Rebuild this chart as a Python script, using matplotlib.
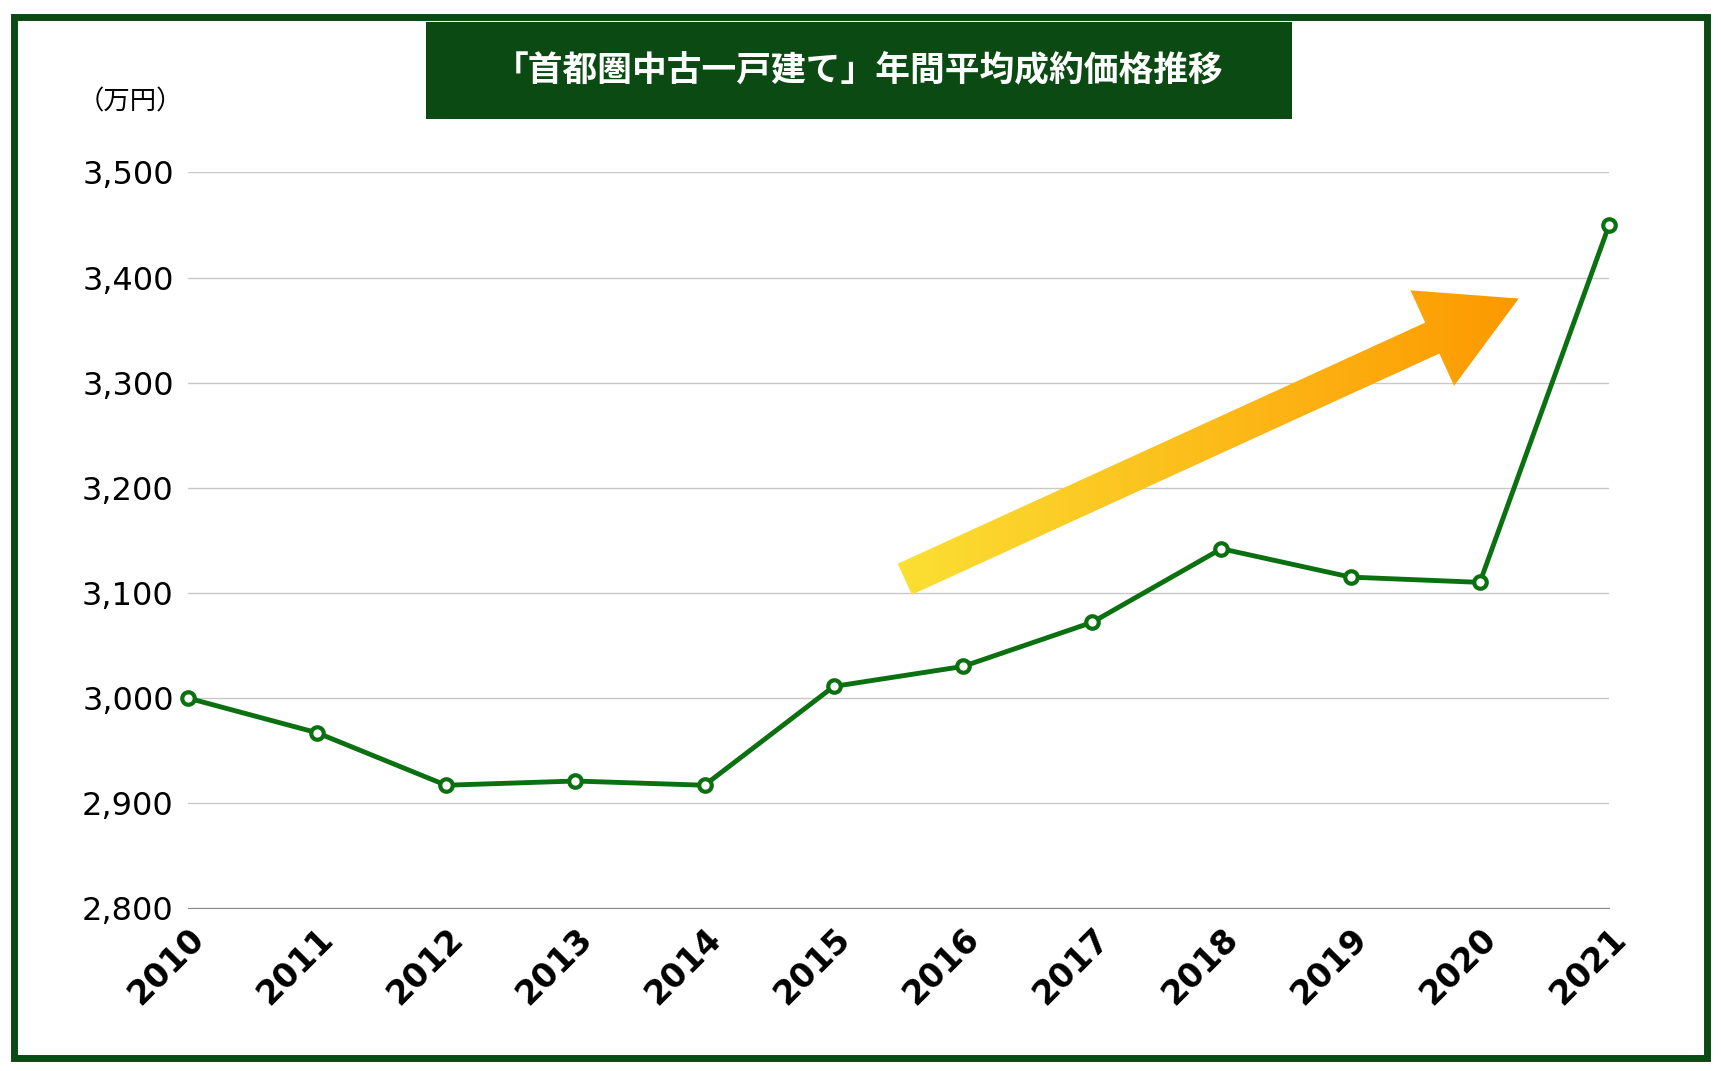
import numpy as np
import matplotlib
matplotlib.use("Agg")
from matplotlib import pyplot as plt
from matplotlib.patches import FancyArrow, Rectangle
from matplotlib.transforms import IdentityTransform

years = [2010, 2011, 2012, 2013, 2014, 2015, 2016, 2017, 2018, 2019, 2020, 2021]
prices = [3000, 2967, 2917, 2921, 2917, 3011, 3030, 3072, 3142, 3115, 3110, 3450]
yticks = [2800, 2900, 3000, 3100, 3200, 3300, 3400, 3500]
title = "「首都圏中古一戸建て」年間平均成約価格推移"
unit = "（万円）"

JP = "Noto Sans CJK JP"
GREEN = "#0a7010"
DARK = "#0b4a12"

fig = plt.figure(figsize=(17.21, 10.71), dpi=100)
fig.patches.append(Rectangle((0.008, 0.012), 0.984, 0.972, transform=fig.transFigure,
                             fill=False, edgecolor=DARK, linewidth=5))
ax = fig.add_axes([0.109, 0.152, 0.826, 0.687])

ax.plot(years, prices, color=GREEN, linewidth=3.5, marker="o", markersize=9,
        markerfacecolor="white", markeredgecolor=GREEN, markeredgewidth=3, zorder=5,
        clip_on=False)
ax.set_xlim(2010, 2021)
ax.set_ylim(2800, 3500)
ax.set_yticks(yticks)
ax.set_yticklabels(["{:,}".format(v) for v in yticks], fontsize=23, fontfamily="DejaVu Sans")
ax.set_xticks(years)
ax.set_xticklabels([str(y) for y in years], rotation=45, ha="right", va="top",
                   rotation_mode="anchor", fontsize=24, fontweight="bold")
ax.tick_params(length=0, pad=10)
ax.grid(axis="y", color="#c8c8c8", linewidth=1)
for s in ["top", "right", "left"]:
    ax.spines[s].set_visible(False)
ax.spines["bottom"].set_color("#888888")
ax.set_axisbelow(True)

# gradient arrow, built in pixel space so it keeps its shape
(x0, y0), (x1, y1) = ax.transData.transform([(2015.55, 3113), (2020.3, 3380)])
arrow = FancyArrow(x0, y0, x1 - x0, y1 - y0, width=34, head_width=105, head_length=95,
                   length_includes_head=True, transform=IdentityTransform(),
                   facecolor="none", edgecolor="none")
fig.patches.append(arrow)
grad = np.linspace(0, 1, 256)[None, :]
cmap = matplotlib.colors.LinearSegmentedColormap.from_list("ya", ["#fbe134", "#fd9800"])
im = ax.imshow(grad, extent=[2015.4, 2020.35, 3050, 3440], aspect="auto", cmap=cmap,
               zorder=3)
im.set_clip_path(arrow)

fig.text(0.045, 0.905, unit, fontsize=19, fontfamily=JP, ha="left", va="center")
fig.patches.append(Rectangle((0.2475, 0.889), 0.503, 0.09, transform=fig.transFigure,
                             facecolor=DARK, edgecolor="none"))
fig.text(0.499, 0.934, title, fontsize=25, fontfamily=JP, fontweight="bold",
         color="white", ha="center", va="center")

fig.savefig("out.png", dpi=100, facecolor="white")
